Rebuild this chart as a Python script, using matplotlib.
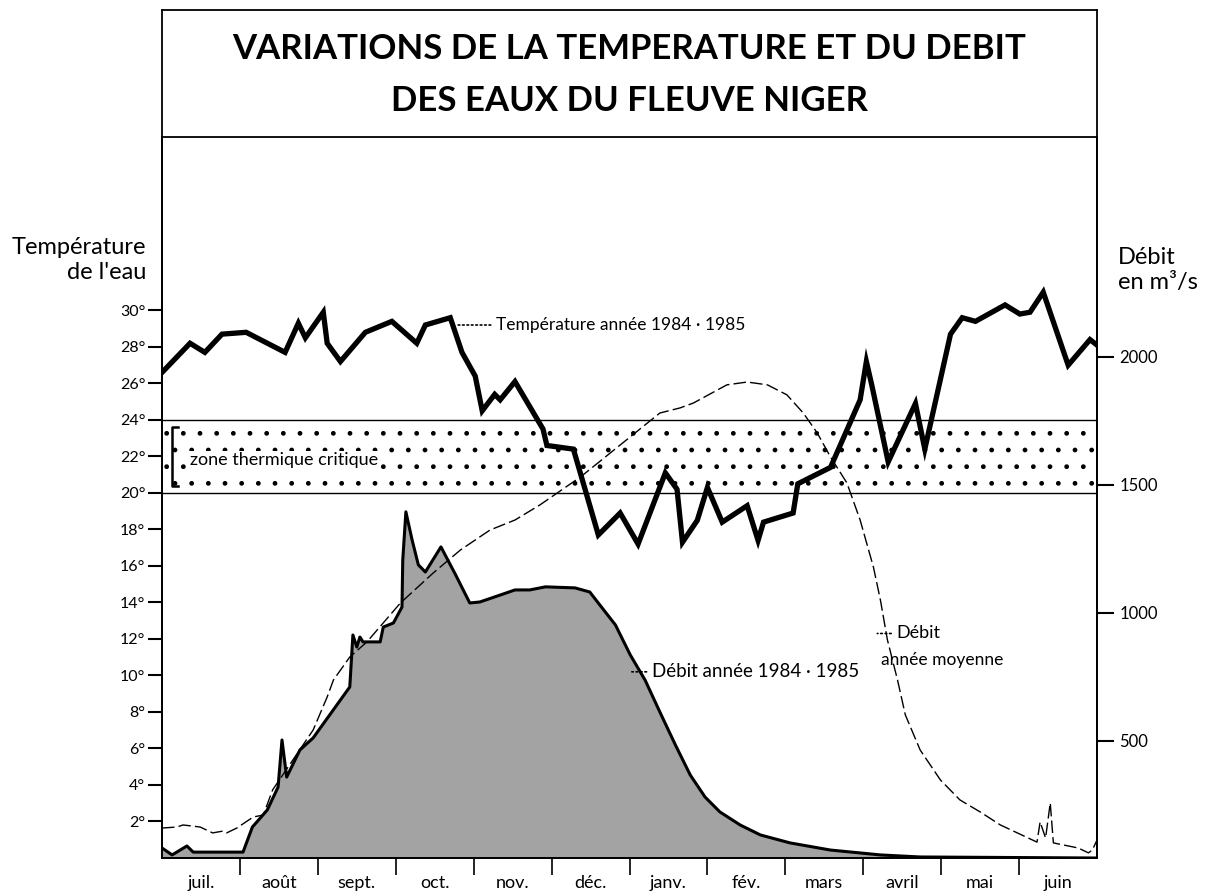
import matplotlib
matplotlib.use("Agg")
import matplotlib.pyplot as plt
import numpy as np

plt.rcParams['font.family'] = ['Lato', 'DejaVu Sans']
plt.rcParams['hatch.linewidth'] = 1.0

# ---------------- data ----------------
months = ["juil.", "août", "sept.", "oct.", "nov.", "déc.", "janv.", "fév.",
          "mars", "avril", "mai", "juin"]

temp_x = [0.00, 0.36, 0.55, 0.77, 1.08, 1.58, 1.75, 1.84, 2.07, 2.12, 2.29, 2.61,
          2.95, 3.27, 3.38, 3.70, 3.85, 4.02, 4.11, 4.27, 4.34, 4.53, 4.89, 4.94,
          5.28, 5.60, 5.88, 6.11, 6.46, 6.61, 6.68, 6.87, 7.00, 7.19, 7.51, 7.65,
          7.72, 8.10, 8.16, 8.58, 8.96, 9.04, 9.11, 9.32, 9.67, 9.79, 10.12, 10.27,
          10.44, 10.82, 11.01, 11.14, 11.31, 11.63, 11.91, 12.00]
temp_y = [26.6, 28.2, 27.7, 28.7, 28.8, 27.7, 29.3, 28.5, 29.9, 28.2, 27.2, 28.8,
          29.4, 28.2, 29.2, 29.6, 27.7, 26.4, 24.5, 25.4, 25.1, 26.1, 23.5, 22.6,
          22.4, 17.7, 18.9, 17.2, 21.1, 20.2, 17.3, 18.5, 20.3, 18.4, 19.3, 17.4,
          18.4, 18.9, 20.5, 21.4, 25.1, 27.2, 25.9, 21.7, 24.9, 22.4, 28.7, 29.6,
          29.4, 30.3, 29.8, 29.9, 31.0, 27.0, 28.4, 28.1]

q8485_x = [0.00, 0.13, 0.32, 0.40, 1.04, 1.16, 1.35, 1.49, 1.54, 1.60, 1.77, 1.94,
           2.41, 2.45, 2.50, 2.54, 2.58, 2.80, 2.84, 2.97, 3.08, 3.09, 3.13, 3.21,
           3.29, 3.38, 3.58, 3.77, 3.95, 4.08, 4.34, 4.53, 4.72, 4.92, 5.30, 5.49,
           5.62, 5.82, 6.01, 6.20, 6.39, 6.59, 6.78, 6.97, 7.16, 7.42, 7.68, 8.06,
           8.58, 9.22, 9.73, 12.00]
q8485_y = [82, 55, 90, 66, 66, 164, 230, 320, 504, 359, 465, 512,
           711, 914, 867, 906, 887, 887, 945, 961, 1023, 1207, 1395, 1285,
           1188, 1160, 1258, 1148, 1039, 1043, 1070, 1090, 1090, 1102, 1098, 1082,
           1031, 953, 836, 738, 613, 484, 367, 281, 223, 172, 133, 102,
           74, 55, 47, 43]

qmoy_x = [0.00, 0.19, 0.27, 0.49, 0.65, 0.78, 0.83, 0.96, 1.17, 1.30, 1.42, 1.68,
          1.94, 2.12, 2.20, 2.41, 2.63, 3.06, 3.48, 3.83, 4.21, 4.53, 4.85, 5.37,
          5.88, 6.23, 6.39, 6.65, 6.82, 7.25, 7.51, 7.77, 8.02, 8.23, 8.41, 8.58,
          8.79, 8.96, 9.13, 9.22, 9.31, 9.44, 9.54, 9.73, 9.99, 10.24, 10.50, 10.76,
          11.23, 11.27, 11.34, 11.40, 11.44, 11.76, 11.89, 11.94, 12.00]
qmoy_y = [160, 164, 172, 164, 141, 148, 141, 160, 203, 211, 309, 426,
          543, 672, 738, 828, 887, 1039, 1156, 1246, 1324, 1363, 1422, 1531,
          1656, 1742, 1781, 1801, 1820, 1891, 1902, 1891, 1852, 1781, 1703, 1609,
          1508, 1363, 1180, 1051, 895, 738, 602, 465, 348, 270, 223, 172,
          105, 184, 121, 258, 102, 82, 63, 74, 113]

temp_ticks = list(range(2, 31, 2))
flow_ticks = [500, 1000, 1500, 2000]
zone_low, zone_high = 20, 24

# ---------------- figure ----------------
W, H = 1205, 894
fig = plt.figure(figsize=(W / 100, H / 100), dpi=100)

L, R, B, T, TT = 162, 1097, 858, 137, 10
ax2 = fig.add_axes([L / W, (H - B) / H, (R - L) / W, (B - T) / H])
ax = ax2.twinx()
ax.yaxis.tick_left()
ax.yaxis.set_label_position('left')
ax2.yaxis.tick_right()
ax.set_zorder(ax2.get_zorder() + 1)
ax.patch.set_visible(False)

ax.set_xlim(0, 12)
ax.set_ylim(0, 39.5)
ax2.set_ylim(43, 2859)

# flow 1984-85 (filled)
ax2.fill_between(q8485_x, q8485_y, 0, color='#a3a3a3', lw=0, zorder=1)
ax2.plot(q8485_x, q8485_y, color='black', lw=2.2, zorder=2)
# mean flow (dashed)
ax2.plot(qmoy_x, qmoy_y, color='black', lw=1.0, dashes=(9, 3), zorder=3)

# critical zone
ax.fill_between([0, 12], zone_low, zone_high, facecolor='none', edgecolor='black',
                hatch='.', lw=0, zorder=1)
ax.axhline(zone_low, color='black', lw=1.0, zorder=2)
ax.axhline(zone_high, color='black', lw=1.0, zorder=2)
ax.plot([0.20, 0.13, 0.13, 0.20], [23.6, 23.6, 20.4, 20.4], color='black', lw=1.8,
        zorder=4)
ax.text(0.36, 21.8, "zone thermique critique", fontsize=13, ha='left', va='center',
        zorder=5, bbox=dict(facecolor='white', edgecolor='none', pad=0.5))

# temperature line
ax.plot(temp_x, temp_y, color='black', lw=3.8, solid_joinstyle='miter', zorder=6)

# ticks
ax.set_yticks(temp_ticks)
ax.set_yticklabels([f"{t}°" for t in temp_ticks], fontsize=11.5)
ax.tick_params(axis='y', direction='out', length=10, width=1.5, pad=2)
ax2.set_yticks(flow_ticks)
ax2.set_yticklabels([str(v) for v in flow_ticks], fontsize=12)
ax2.tick_params(axis='y', direction='out', length=12, width=1.5, pad=4)

ax2.set_xticks(np.arange(1, 12))
ax2.set_xticklabels([])
ax2.set_xticks(np.arange(12) + 0.5, minor=True)
ax2.set_xticklabels(months, minor=True, fontsize=13)
ax2.tick_params(axis='x', which='major', direction='out', length=12, width=1.2)
ax2.tick_params(axis='x', which='minor', length=0, pad=12)
ax.tick_params(axis='x', which='both', bottom=False, labelbottom=False)

for a in (ax, ax2):
    for s in a.spines.values():
        s.set_linewidth(1.3)
ax.spines['top'].set_visible(False)
ax2.spines['top'].set_visible(False)

# axis titles
fig.text(146 / W, 1 - 260 / H, "Température\nde l'eau", ha='right', va='center',
         fontsize=17, linespacing=1.25)
fig.text(1118 / W, 1 - 270 / H, "Débit\nen m³/s", ha='left', va='center',
         fontsize=17, linespacing=1.25)

# annotations
leader = dict(arrowstyle='-', linestyle=':', lw=1.2, color='black',
              shrinkA=2, shrinkB=0)
ax.annotate("Température année 1984 · 1985", xy=(3.78, 29.2), xytext=(4.29, 29.2),
            fontsize=12.5, va='center', ha='left', arrowprops=leader)
ax.annotate("Débit année 1984 · 1985", xy=(6.03, 10.2), xytext=(6.29, 10.2),
            fontsize=13.5, va='center', ha='left', arrowprops=leader)
ax.annotate("Débit", xy=(9.18, 12.3), xytext=(9.43, 12.3),
            fontsize=13, va='center', ha='left', arrowprops=leader)
ax.text(9.23, 10.85, "année moyenne", fontsize=12.5, va='center', ha='left')

# title box
tax = fig.add_axes([L / W, (H - T) / H, (R - L) / W, (T - TT) / H])
tax.set_xticks([])
tax.set_yticks([])
for s in tax.spines.values():
    s.set_linewidth(1.3)
tax.text(0.5, 0.69, "VARIATIONS DE LA TEMPERATURE ET DU DEBIT", ha='center',
         va='center', fontsize=25, fontweight='bold', transform=tax.transAxes)
tax.text(0.5, 0.28, "DES EAUX DU FLEUVE NIGER", ha='center', va='center',
         fontsize=25, fontweight='bold', transform=tax.transAxes)

fig.savefig("out.png", dpi=100)
